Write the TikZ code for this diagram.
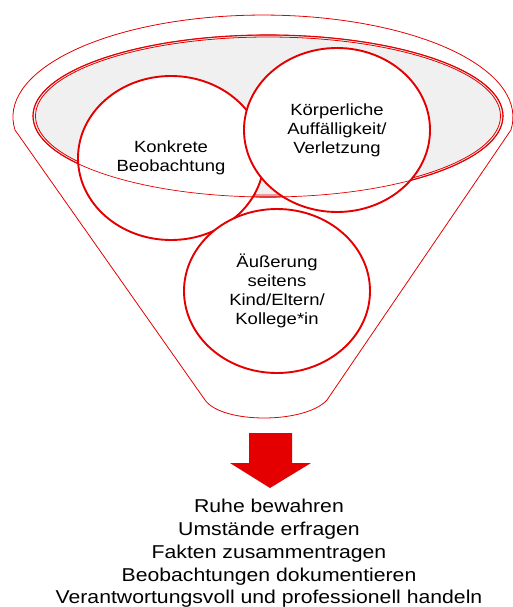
\documentclass[tikz,border=0pt]{standalone}
\usepackage{fontspec}
\setmainfont{Liberation Sans}[FakeStretch=1.14]
\usepackage{tikz}
\usetikzlibrary{shapes.geometric}
\definecolor{fred}{RGB}{228,0,0}
\definecolor{fgrey}{RGB}{240,240,240}
\tikzset{
  ring/.style={draw=fred, ellipse, line width=1.9pt, fill=white, inner sep=0pt,
    minimum width=186pt, minimum height=164pt, align=center,
    font=\fontsize{16.2}{19}\selectfont},
  rim/.style={draw=fred, line width=1.1pt}
}

\begin{document}
\begin{tikzpicture}[x=1pt,y=-1pt]
\useasboundingbox (0,0) rectangle (513,607);
% funnel
\draw[fred, line width=0.8pt] (15,130) arc[start angle=187.3, end angle=-7.3, x radius=250pt, y radius=102pt]
  -- (327,400) .. controls (305,424) and (222,424) .. (205,400) -- cycle;
% opening
\draw[rim, fill=fgrey] (268,116) ellipse[x radius=235pt, y radius=81pt];
\draw[rim, line width=0.8pt] (268,116) ellipse[x radius=232.5pt, y radius=79pt];
% circles
\node[ring] (konkret) at (171,158) {Konkrete\\Beobachtung};
\node[ring] (koerper) at (337,130) {Körperliche\\Auffälligkeit/\\Verletzung};
\node[ring] (aeusser) at (277,291) {Äußerung\\seitens\\Kind/Eltern/\\Kollege*in};
\draw[fred, line width=0.7pt] (268,116) ellipse[x radius=235pt, y radius=81pt];
% arrow
\fill[fred] (249,433) -- (292,433) -- (292,463) -- (311,463) -- (270,488) -- (230,463) -- (249,463) -- cycle;
\node[align=center, font=\fontsize{18.6}{22.7}\selectfont] (steps) at (269,553.5)
  {Ruhe bewahren\\Umstände erfragen\\Fakten zusammentragen\\Beobachtungen dokumentieren\\Verantwortungsvoll und professionell handeln};
\end{tikzpicture}
\end{document}
